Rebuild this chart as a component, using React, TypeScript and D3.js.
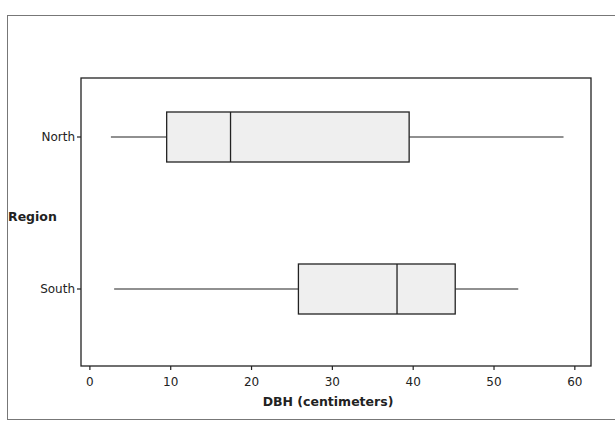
import React from "react";
import * as d3 from "d3";

const regions = ["North", "South"];
const whiskerLow = [2.6, 3.0];
const q1 = [9.5, 25.8];
const median = [17.4, 38.0];
const q3 = [39.5, 45.2];
const whiskerHigh = [58.6, 53.0];
const xTicks = [0, 10, 20, 30, 40, 50, 60];

export default function App() {
  const W = 615, H = 426;
  const left = 81, right = 591, top = 78, bottom = 366;
  const x = d3.scaleLinear().domain([-1.1, 62]).range([left, right]);
  const y = d3.scalePoint().domain(regions).range([137, 289]);
  const boxH = 50;
  const font = "'DejaVu Sans', Verdana, sans-serif";
  return (
    <svg width={W} height={H} style={{ position: "absolute", left: 0, top: 0, background: "#fff" }}>
      {/* outer frame */}
      <rect x={7.5} y={15.5} width={620} height={404} fill="none" stroke="#777" strokeWidth={1} />
      {/* plot frame */}
      <rect x={left} y={top} width={right - left} height={bottom - top} fill="none" stroke="#222" strokeWidth={1.3} />
      {regions.map((r, i) => {
        const cy = y(r)!;
        return (
          <g key={r}>
            <line x1={x(whiskerLow[i])} x2={x(q1[i])} y1={cy} y2={cy} stroke="#222" strokeWidth={1.2} />
            <line x1={x(q3[i])} x2={x(whiskerHigh[i])} y1={cy} y2={cy} stroke="#222" strokeWidth={1.2} />
            <rect x={x(q1[i])} y={cy - boxH / 2} width={x(q3[i]) - x(q1[i])} height={boxH} fill="#efefef" stroke="#222" strokeWidth={1.3} />
            <line x1={x(median[i])} x2={x(median[i])} y1={cy - boxH / 2} y2={cy + boxH / 2} stroke="#222" strokeWidth={1.3} />
            <line x1={left - 4} x2={left} y1={cy} y2={cy} stroke="#222" strokeWidth={1.2} />
            <text x={left - 6} y={cy} dy="0.35em" textAnchor="end" fontFamily={font} fontSize={12} fill="#222">{r}</text>
          </g>
        );
      })}
      {xTicks.map((t) => (
        <g key={t}>
          <line x1={x(t)} x2={x(t)} y1={bottom} y2={bottom + 4} stroke="#222" strokeWidth={1.2} />
          <text x={x(t)} y={bottom + 20} textAnchor="middle" fontFamily={font} fontSize={12} fill="#222">{t}</text>
        </g>
      ))}
      <text x={(left + right) / 2 - 8} y={bottom + 40} textAnchor="middle" fontFamily={font} fontSize={12.5} fontWeight="bold" fill="#222">DBH (centimeters)</text>
      <text x={8} y={217} dy="0.35em" textAnchor="start" fontFamily={font} fontSize={12.5} fontWeight="bold" fill="#222">Region</text>
    </svg>
  );
}
